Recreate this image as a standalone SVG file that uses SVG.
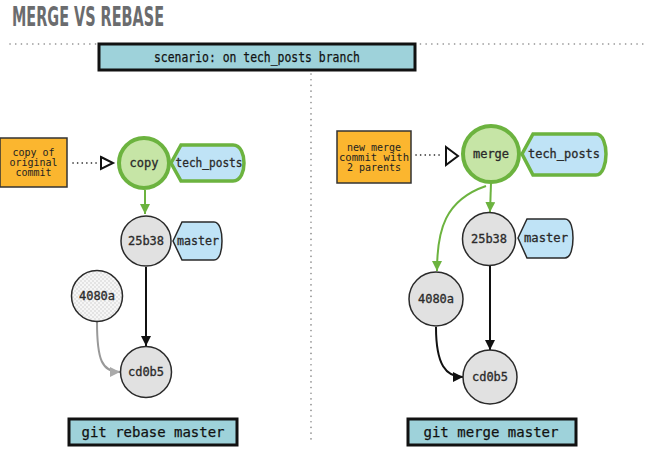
<svg xmlns="http://www.w3.org/2000/svg" width="645" height="455" viewBox="0 0 645 455">
<style>
.title{font-family:"DejaVu Sans",sans-serif;font-weight:bold;font-stretch:condensed;font-size:27px;fill:#6b6c6e}
.dots{stroke:#888;stroke-width:1.6;stroke-dasharray:0.1 5.6;stroke-linecap:round;fill:none}
.cmd{fill:#9ed2da;stroke:#111;stroke-width:3}
.cmdt{font-family:"DejaVu Sans Mono","Liberation Mono",monospace;font-size:14.5px;fill:#111;text-anchor:middle;stroke:#111;stroke-width:0.25}
.note{fill:#fbb62f;stroke:#333;stroke-width:1.5}
.notet{font-family:"DejaVu Sans Mono","Liberation Mono",monospace;font-size:10px;fill:#222;text-anchor:middle}
.commit{fill:#e1e1e1;stroke:#2a2a2a;stroke-width:1.5}
.head{fill:#c6e5a6;stroke:#6cb33f;stroke-width:4}
.lbl{font-family:"DejaVu Sans Mono","Liberation Mono",monospace;font-size:12px;fill:#2a2a2a;stroke:#2a2a2a;stroke-width:0.3;text-anchor:middle;dominant-baseline:central}
.tag{fill:#bfe3f6;stroke:#2a2a2a;stroke-width:1.5}
.tagh{fill:#bfe3f6;stroke:#6cb33f;stroke-width:3.5}
.eg{stroke:#6cb33f;stroke-width:2;fill:none}
.eb{stroke:#111;stroke-width:2;fill:none}
.ey{stroke:#999;stroke-width:2;fill:none}
.ptr{stroke:#111;stroke-width:1.6;stroke-dasharray:0.1 4.5;stroke-linecap:round;fill:none}
.open{fill:#fff;stroke:#111;stroke-width:2}
</style>
<defs>
<marker id="ag" viewBox="0 0 10 10" refX="10" refY="5" markerWidth="5" markerHeight="5" orient="auto" markerUnits="strokeWidth"><path d="M0,0 L10,5 L0,10 Z" fill="#6cb33f"/></marker>
<marker id="ab" viewBox="0 0 10 10" refX="10" refY="5" markerWidth="5" markerHeight="5" orient="auto" markerUnits="strokeWidth"><path d="M0,0 L10,5 L0,10 Z" fill="#111"/></marker>
<marker id="ay" viewBox="0 0 10 10" refX="10" refY="5" markerWidth="5" markerHeight="5" orient="auto" markerUnits="strokeWidth"><path d="M0,0 L10,5 L0,10 Z" fill="#aaa"/></marker>
<pattern id="chk" width="4" height="4" patternUnits="userSpaceOnUse"><rect width="4" height="4" fill="#f6f6f6"/><rect width="2" height="2" fill="#e4e4e4"/><rect x="2" y="2" width="2" height="2" fill="#e4e4e4"/></pattern>
</defs>
<rect width="645" height="455" fill="#fff"/>
<text class="title" x="12" y="26" textLength="152" lengthAdjust="spacingAndGlyphs">MERGE VS REBASE</text>
<line class="dots" x1="10" y1="44" x2="645" y2="44"/>
<line class="dots" x1="311" y1="74" x2="311" y2="442"/>
<g id="scenario">
<rect class="cmd" x="99" y="44" width="316" height="26"/>
<text class="cmdt" x="257" y="61.5" font-size="12.5" textLength="206" lengthAdjust="spacingAndGlyphs">scenario: on tech_posts branch</text>
</g>
<g id="connectors">
<path class="ptr" d="M73,163 L99,163"/>
<path class="open" d="M101,157 L113,163 L101,169 Z"/>
<path class="eg" d="M145,190 L145,214" marker-end="url(#ag)"/>
<path class="eb" d="M146,267 L146,346" marker-end="url(#ab)"/>
<path class="ey" d="M97,322 C97,360 102,372 120,372" marker-end="url(#ay)"/>
<path class="ptr" d="M416,155 L443,155"/>
<path class="open" d="M446,147 L458,156 L446,165 Z"/>
<path class="eg" d="M491,183 L490,212" marker-end="url(#ag)"/>
<path class="eg" d="M486,186 C445,200 437,230 437,271" marker-end="url(#ag)"/>
<path class="eb" d="M490,266 L490,350" marker-end="url(#ab)"/>
<path class="eb" d="M436,327 C436,365 446,377 463,377" marker-end="url(#ab)"/>
</g>
<g id="note-left">
<rect class="note" x="0" y="138" width="67" height="49"/>
<text class="notet" x="33.5" y="155.5">copy of</text>
<text class="notet" x="33.5" y="165.5">original</text>
<text class="notet" x="33.5" y="175.5">commit</text>
</g>
<g id="copy">
<circle class="head" cx="144" cy="163" r="25"/>
<text class="lbl" x="144" y="163">copy</text>
</g>
<g id="tech_posts-left">
<path class="tagh" d="M171,163 L181,145 L233,145 C241,145 244,155 244,163 C244,171 241,181 233,181 L181,181 Z"/>
<text class="lbl" x="209" y="163" textLength="67" lengthAdjust="spacingAndGlyphs">tech_posts</text>
</g>
<g id="c25b38-left">
<circle class="commit" cx="146" cy="241" r="25"/>
<text class="lbl" x="146" y="241">25b38</text>
</g>
<g id="master-left">
<path class="tag" d="M173,241 L182,222 L214,222 C220,222 222,232 222,241 C222,250 220,260 214,260 L182,260 Z"/>
<text class="lbl" x="198" y="241" textLength="42" lengthAdjust="spacingAndGlyphs">master</text>
</g>
<g id="c4080a-left">
<circle cx="97" cy="296" r="25.5" fill="url(#chk)" stroke="#2a2a2a" stroke-width="1.5"/>
<text class="lbl" x="97" y="296">4080a</text>
</g>
<g id="cd0b5-left">
<circle class="commit" cx="146" cy="372" r="25.5"/>
<text class="lbl" x="146" y="372">cd0b5</text>
</g>
<g id="cmd-rebase">
<rect class="cmd" x="69" y="419" width="168" height="26"/>
<text class="cmdt" x="153" y="437" textLength="143" lengthAdjust="spacingAndGlyphs">git rebase master</text>
</g>
<g id="note-right">
<rect class="note" x="337" y="131" width="74" height="52"/>
<text class="notet" x="374" y="150.5">new merge</text>
<text class="notet" x="374" y="160.5" textLength="70" lengthAdjust="spacingAndGlyphs">commit with</text>
<text class="notet" x="374" y="170.5">2 parents</text>
</g>
<g id="merge">
<circle class="head" cx="491" cy="154" r="28"/>
<text class="lbl" x="491" y="154">merge</text>
</g>
<g id="tech_posts-right">
<path class="tagh" d="M522,154 L533,134 L596,134 C603,134 606,145 606,154 C606,163 603,175 596,175 L533,175 Z"/>
<text class="lbl" x="564" y="154" textLength="72" lengthAdjust="spacingAndGlyphs">tech_posts</text>
</g>
<g id="c25b38-right">
<circle class="commit" cx="489" cy="239" r="26.5"/>
<text class="lbl" x="489" y="239">25b38</text>
</g>
<g id="master-right">
<path class="tag" d="M518,238 L527,219 L565,219 C571,219 573,229 573,238 C573,247 571,258 565,258 L527,258 Z"/>
<text class="lbl" x="546" y="238" textLength="44" lengthAdjust="spacingAndGlyphs">master</text>
</g>
<g id="c4080a-right">
<circle class="commit" cx="436" cy="299" r="27"/>
<text class="lbl" x="436" y="299">4080a</text>
</g>
<g id="cd0b5-right">
<circle class="commit" cx="490" cy="377" r="27"/>
<text class="lbl" x="490" y="377">cd0b5</text>
</g>
<g id="cmd-merge">
<rect class="cmd" x="408" y="419" width="168" height="26"/>
<text class="cmdt" x="491" y="437" textLength="135" lengthAdjust="spacingAndGlyphs">git merge master</text>
</g>
</svg>
